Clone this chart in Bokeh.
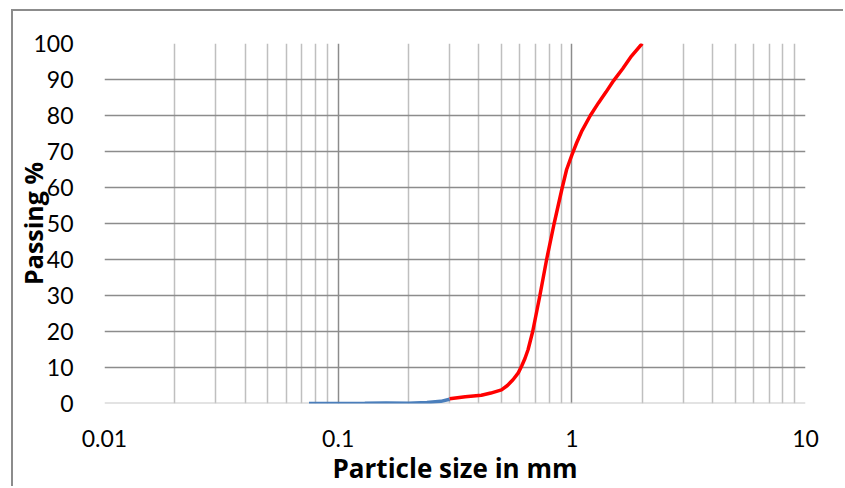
from bokeh.plotting import figure
from bokeh.models import FixedTicker, CustomJSTickFormatter, Range1d, Span
from bokeh.embed import file_html
from bokeh.resources import INLINE

# Data
blue_size = [0.075, 0.10, 0.13, 0.16, 0.20, 0.24, 0.275, 0.30]
blue_pass = [0.0, 0.0, 0.05, 0.15, 0.1, 0.25, 0.6, 1.2]

red_size = [0.30, 0.35, 0.41, 0.45, 0.50, 0.53, 0.56, 0.59, 0.61, 0.63, 0.65, 0.68,
            0.73, 0.78, 0.84, 0.91, 0.95, 1.00, 1.05, 1.10, 1.20, 1.30, 1.40,
            1.51, 1.65, 1.80, 2.00]
red_pass = [1.3, 1.9, 2.3, 2.9, 3.8, 5.0, 6.6, 8.5, 10.4, 12.5, 15.0, 20.0,
            30.0, 40.0, 50.0, 60.0, 65.0, 69.0, 72.5, 75.5, 80.0, 83.5, 86.5,
            89.7, 93.0, 96.5, 100.0]

x_ticks = [0.01, 0.1, 1, 10]
x_minor = [m * d for d in (0.01, 0.1, 1) for m in range(2, 10)]
y_ticks = list(range(0, 101, 10))

FONT = "Lato"
TFONT = "Open Sans"

# outer chart border at x=11, y=9 (2px), canvas begins at (13, 11)
p = figure(width=832, height=477, x_axis_type="log", output_backend="svg",
           toolbar_location=None,
           x_range=Range1d(0.01, 10), y_range=Range1d(0, 100),
           min_border_left=90, min_border_right=40, min_border_top=32,
           min_border_bottom=84)
p.margin = (9, 0, 0, 11)
p.styles = {"border-left": "2px solid #8c8c8c", "border-top": "2px solid #8c8c8c"}
p.outline_line_color = None
p.background_fill_color = "white"
p.border_fill_color = "white"

p.xaxis.ticker = FixedTicker(ticks=x_ticks, minor_ticks=x_minor)
p.xaxis.formatter = CustomJSTickFormatter(code="return String(tick);")
p.yaxis.ticker = FixedTicker(ticks=y_ticks)

for ax in (p.xaxis, p.yaxis):
    ax.major_tick_line_color = None
    ax.minor_tick_line_color = None
    ax.major_label_text_font = FONT
    ax.major_label_text_font_size = "23px"
    ax.major_label_text_color = "#000000"
    ax.axis_line_color = None
p.yaxis.major_label_standoff = 25
p.xaxis.major_label_standoff = 20

p.xaxis.axis_label = "Particle size in mm"
p.xaxis.axis_label_text_font = TFONT
p.xaxis.axis_label_text_font_style = "bold"
p.xaxis.axis_label_text_font_size = "26px"
p.xaxis.axis_label_text_color = "#000000"
p.xaxis.axis_label_standoff = 0

p.yaxis.axis_label = "Passing %"
p.yaxis.axis_label_text_font = TFONT
p.yaxis.axis_label_text_font_style = "bold"
p.yaxis.axis_label_text_font_size = "25px"
p.yaxis.axis_label_text_color = "#000000"
p.yaxis.axis_label_standoff = -20

p.xgrid.grid_line_color = "#8c8c8c"
p.xgrid.grid_line_width = 1.5
p.xgrid.minor_grid_line_color = "#bfbfbf"
p.xgrid.minor_grid_line_width = 1.5
p.ygrid.ticker = FixedTicker(ticks=y_ticks[1:])
p.ygrid.grid_line_color = "#8c8c8c"
p.ygrid.grid_line_width = 1.5

p.add_layout(Span(location=0, dimension="width", line_color="#c8c8c8",
                  line_width=2, level="underlay"))

p.line(blue_size, blue_pass, line_color="#4a7ebb", line_width=3.5)
p.line(red_size, red_pass, line_color="#ff0000", line_width=3.5)

open("out.html", "w").write(file_html(p, INLINE))
